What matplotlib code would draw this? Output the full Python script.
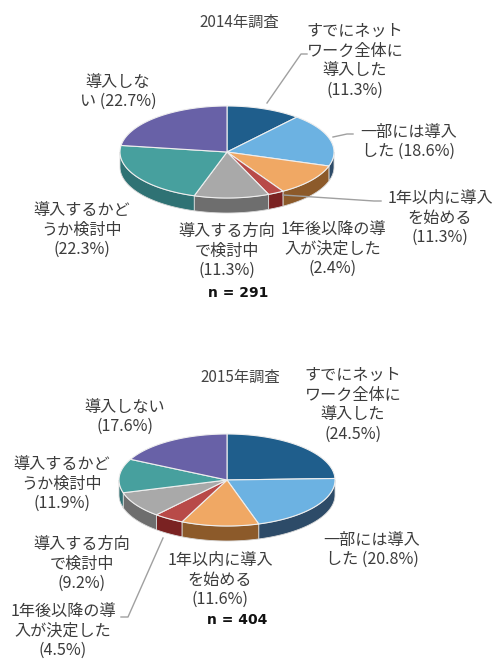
import matplotlib.pyplot as plt
import numpy as np
from matplotlib.patches import Polygon

plt.rcParams['font.family'] = ['Noto Sans CJK JP', 'DejaVu Sans']

categories = ['すでにネットワーク全体に導入した', '一部には導入した', '1年以内に導入を始める',
              '1年後以降の導入が決定した', '導入する方向で検討中', '導入するかどうか検討中', '導入しない']
values_2014 = [11.3, 18.6, 11.3, 2.4, 11.3, 22.3, 22.7]
values_2015 = [24.5, 20.8, 11.6, 4.5, 9.2, 11.9, 17.6]
n_2014 = 291
n_2015 = 404
labels_2014 = ['すでにネット\nワーク全体に\n導入した\n({}%)', '一部には導入\nした ({}%)',
               '1年以内に導入\nを始める\n({}%)', '1年後以降の導\n入が決定した\n({}%)',
               '導入する方向\nで検討中\n({}%)', '導入するかど\nうか検討中\n({}%)', '導入しな\nい ({}%)']
labels_2015 = ['すでにネット\nワーク全体に\n導入した\n({}%)', '一部には導入\nした ({}%)',
               '1年以内に導入\nを始める\n({}%)', '1年後以降の導\n入が決定した\n({}%)',
               '導入する方向\nで検討中\n({}%)', '導入するかど\nうか検討中\n({}%)', '導入しない\n({}%)']

tops = ['#1f5e8c', '#6cb2e2', '#f0a864', '#b84a48', '#a9a9a9', '#47a09e', '#6861a7']
sides = ['#173f5e', '#2d4b68', '#8c5a2a', '#7a2222', '#6e6e6e', '#2f7274', '#48437c']
txt = '#3c3c3c'


def pie3d(ax, cx, cy, a, b, depth, values):
    v = np.array(values, dtype=float)
    edges = np.concatenate([[0], np.cumsum(v / v.sum())]) * 2 * np.pi
    # side walls (front half only)
    for i in range(len(v)):
        lo, hi = max(edges[i], np.pi / 2), min(edges[i + 1], 3 * np.pi / 2)
        if hi <= lo:
            continue
        t = np.linspace(lo, hi, 60)
        x = cx + a * np.sin(t)
        y = cy - b * np.cos(t)
        pts = np.column_stack([np.concatenate([x, x[::-1]]),
                               np.concatenate([y, y[::-1] + depth])])
        ax.add_patch(Polygon(pts, closed=True, fc=sides[i], ec='#d8d8d8', lw=0.6))
    # top faces
    for i in range(len(v)):
        t = np.linspace(edges[i], edges[i + 1], 120)
        x = np.concatenate([[cx], cx + a * np.sin(t)])
        y = np.concatenate([[cy], cy - b * np.cos(t)])
        ax.add_patch(Polygon(np.column_stack([x, y]), closed=True, fc=tops[i], ec='#eeeeee', lw=0.8))


fig = plt.figure(figsize=(5, 6.67), dpi=100)
ax = fig.add_axes([0, 0, 1, 1])
ax.set_xlim(0, 500)
ax.set_ylim(667, 0)
ax.axis('off')

pie3d(ax, 227, 152, 107, 46, 15, values_2014)
pie3d(ax, 227, 480, 108, 46, 15, values_2015)

pos_2014 = [(355, 61), (409, 142), (440, 218), (333, 249), (227, 251), (82, 230), (118, 92)]
pos_2015 = [(353, 405), (372, 550), (220, 580), (63, 631), (82, 564), (62, 484), (125, 417)]

for lab, val, (x, y) in zip(labels_2014, values_2014, pos_2014):
    ax.text(x, y, lab.format(val), ha='center', va='center', multialignment='center',
            fontsize=11.6, color=txt, linespacing=1.2)
for lab, val, (x, y) in zip(labels_2015, values_2015, pos_2015):
    ax.text(x, y, lab.format(val), ha='center', va='center', multialignment='center',
            fontsize=11.6, color=txt, linespacing=1.2)

ax.text(239, 22, '2014年調査', ha='center', va='center', fontsize=11, color='#444444')
ax.text(240, 377, '2015年調査', ha='center', va='center', fontsize=11, color='#444444')
ax.text(238, 293, 'n = {}'.format(n_2014), ha='center', va='center', fontsize=10,
        fontweight='bold', color='#111111', family='DejaVu Sans')
ax.text(237, 620, 'n = {}'.format(n_2015), ha='center', va='center', fontsize=10,
        fontweight='bold', color='#111111', family='DejaVu Sans')

# leader lines
lc = '#a0a0a0'
ax.plot([267, 301, 307], [103, 54, 54], color=lc, lw=1)
ax.plot([333, 347, 353], [137, 134, 134], color=lc, lw=1)
ax.plot([283, 374, 381], [195, 201, 201], color=lc, lw=1)
ax.plot([163, 128, 121], [538, 617, 617], color=lc, lw=1)

fig.savefig('out.png', dpi=100)
